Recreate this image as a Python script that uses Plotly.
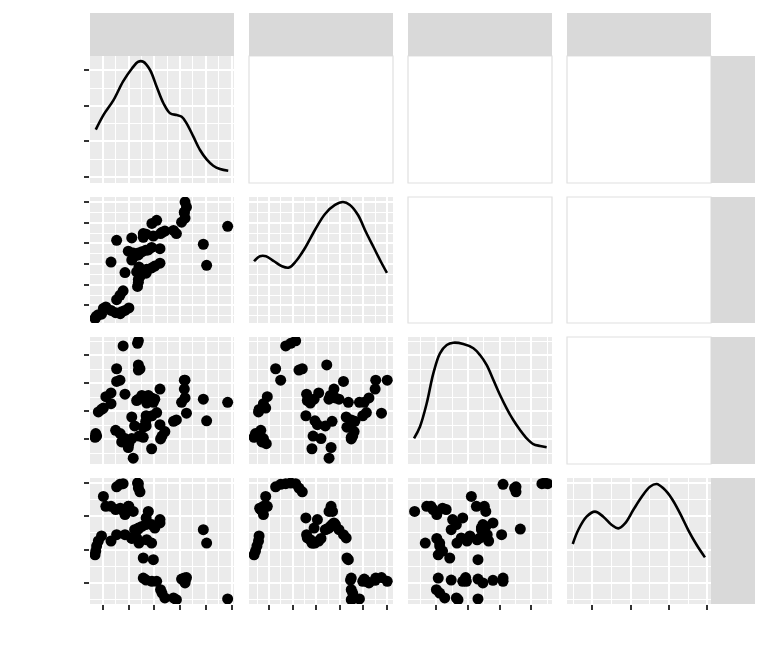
import plotly.graph_objects as go

# ---- data (panel-fraction units) ----
v1 = [0.035, 0.040, 0.046, 0.058, 0.080,
      0.093, 0.110, 0.146, 0.178, 0.210, 0.270, 0.243, 0.220,
      0.185, 0.208, 0.230, 0.330, 0.336, 0.336, 0.347,
      0.146, 0.243, 0.324, 0.394, 0.428, 0.450, 0.810, 0.390, 0.486, 0.290, 0.340,
      0.310, 0.336, 0.360, 0.387, 0.486, 0.428, 0.405, 0.300, 0.266, 0.336,
      0.787, 0.290, 0.185,
      0.370, 0.440,
      0.370, 0.390, 0.430, 0.463, 0.490, 0.500, 0.520, 0.580, 0.600, 0.956,
      0.636, 0.660, 0.655, 0.655, 0.670, 0.660]
v2 = [0.035, 0.045, 0.055, 0.066, 0.070,
      0.116, 0.127, 0.100, 0.082, 0.074, 0.120, 0.100, 0.090,
      0.185, 0.220, 0.255, 0.290, 0.324, 0.347, 0.370,
      0.484, 0.400, 0.405, 0.426, 0.437, 0.452, 0.458, 0.395, 0.475, 0.500, 0.445,
      0.530, 0.555, 0.565, 0.577, 0.590, 0.600, 0.580, 0.556, 0.570, 0.540,
      0.625, 0.675, 0.656,
      0.680, 0.690,
      0.710, 0.705, 0.790, 0.815, 0.710, 0.720, 0.730, 0.735, 0.710, 0.767,
      0.800, 0.833, 0.876, 0.880, 0.920, 0.960]
v3 = [0.21, 0.24, 0.22, 0.41, 0.43,
      0.44, 0.53, 0.475, 0.265, 0.24, 0.16, 0.20, 0.174,
      0.75, 0.66, 0.93, 0.95, 0.97, 0.74, 0.75,
      0.56, 0.55, 0.50, 0.48, 0.12, 0.51, 0.34, 0.38, 0.31, 0.20, 0.22,
      0.30, 0.51, 0.54, 0.336, 0.59, 0.52, 0.54, 0.046, 0.13, 0.78,
      0.51, 0.37, 0.65,
      0.29, 0.486,
      0.21, 0.30, 0.38, 0.405, 0.197, 0.22, 0.255, 0.336, 0.347, 0.486,
      0.486, 0.52, 0.59, 0.66, 0.40, 0.66]
v4 = [0.39, 0.42, 0.46, 0.50, 0.54,
      0.854, 0.775, 0.775, 0.75, 0.76, 0.775, 0.71, 0.75,
      0.93, 0.95, 0.955, 0.96, 0.955, 0.92, 0.89,
      0.50, 0.55, 0.524, 0.51, 0.484, 0.603, 0.484, 0.683, 0.67, 0.52, 0.484,
      0.59, 0.603, 0.616, 0.63, 0.643, 0.63, 0.735, 0.735, 0.775, 0.595,
      0.59, 0.524, 0.55,
      0.365, 0.352,
      0.206, 0.19, 0.18, 0.18, 0.114, 0.087, 0.048, 0.048, 0.034, 0.04,
      0.198, 0.167, 0.188, 0.206, 0.21, 0.18]

# diagonal density curves (x in variable units, y in panel fraction)
dens1_x = [0.04, 0.093, 0.162, 0.23, 0.29, 0.335, 0.37, 0.417, 0.463, 0.51, 0.556, 0.602,
           0.637, 0.671, 0.718, 0.764, 0.81, 0.856, 0.903, 0.96]
dens1_y = [0.42, 0.535, 0.65, 0.80, 0.90, 0.955, 0.955, 0.89, 0.758, 0.628, 0.549, 0.535,
           0.522, 0.47, 0.365, 0.26, 0.186, 0.136, 0.11, 0.097]
dens2_x = [0.035, 0.076, 0.118, 0.174, 0.229, 0.278, 0.326, 0.389, 0.458, 0.528, 0.597,
           0.653, 0.701, 0.757, 0.812, 0.868, 0.917, 0.958]
dens2_y = [0.49, 0.53, 0.53, 0.49, 0.45, 0.44, 0.49, 0.595, 0.738, 0.865, 0.937,
           0.96, 0.937, 0.857, 0.722, 0.595, 0.484, 0.397]
dens3_x = [0.042, 0.083, 0.13, 0.176, 0.222, 0.269, 0.315, 0.384, 0.454, 0.5, 0.546, 0.593,
           0.639, 0.685, 0.731, 0.778, 0.824, 0.87, 0.917, 0.963]
dens3_y = [0.202, 0.294, 0.478, 0.714, 0.871, 0.937, 0.955, 0.945, 0.911, 0.858, 0.78, 0.661,
           0.543, 0.438, 0.346, 0.268, 0.202, 0.157, 0.142, 0.132]
dens4_x = [0.04, 0.078, 0.136, 0.194, 0.252, 0.311, 0.356, 0.403, 0.46, 0.519, 0.576, 0.623,
           0.669, 0.727, 0.785, 0.842, 0.901, 0.958]
dens4_y = [0.476, 0.587, 0.693, 0.733, 0.693, 0.627, 0.6, 0.64, 0.746, 0.851, 0.931, 0.952,
           0.918, 0.838, 0.719, 0.587, 0.468, 0.37]

# tick positions
col_ticks = [[0.09, 0.268, 0.447, 0.626, 0.804, 0.983],
             [0.139, 0.303, 0.467, 0.631, 0.795, 0.959],
             [0.197, 0.417, 0.637, 0.857],
             [0.176, 0.442, 0.708, 0.974]]
row_ticks = [[0.048, 0.328, 0.608, 0.888],
             [0.14, 0.304, 0.468, 0.632, 0.796, 0.96],
             [0.196, 0.416, 0.636, 0.856],
             [0.168, 0.432, 0.696, 0.96]]

# ---- layout geometry (window pixels; page body has an 8px margin) ----
OFF = 8
W, H = 768 - OFF, 653 - OFF
cols_px = [(90, 234), (249, 393), (408, 552), (567, 711)]
rows_px = [(56, 183), (197, 323), (337, 464), (478, 604)]
STRIP = '#D9D9D9'
PANEL = '#EBEBEB'
TICK = '#333333'


def px_x(p):
    return (p - OFF) / W


def px_y(p):
    return 1 - (p - OFF) / H


def minor(vals):
    step = vals[1] - vals[0]
    out = [vals[0] - step / 2] + [(a + b) / 2 for a, b in zip(vals, vals[1:])] + [vals[-1] + step / 2]
    return [m for m in out if 0 < m < 1]


vars_ = [v1, v2, v3, v4]
dens = [(dens1_x, dens1_y), (dens2_x, dens2_y), (dens3_x, dens3_y), (dens4_x, dens4_y)]

fig = go.Figure()
shapes = []
layout = {}
for r in range(4):
    for c in range(4):
        k = r * 4 + c + 1
        xs = 'x' if k == 1 else f'x{k}'
        ys = 'y' if k == 1 else f'y{k}'
        xk = 'xaxis' if k == 1 else f'xaxis{k}'
        yk = 'yaxis' if k == 1 else f'yaxis{k}'
        lower = r >= c
        x0, x1 = px_x(cols_px[c][0]), px_x(cols_px[c][1])
        y0, y1 = px_y(rows_px[r][1]), px_y(rows_px[r][0])
        xa = dict(domain=[x0, x1], anchor=ys, range=[0, 1], zeroline=False, showline=False,
                  showticklabels=False, fixedrange=True)
        ya = dict(domain=[y0, y1], anchor=xs, range=[0, 1], zeroline=False, showline=False,
                  showticklabels=False, fixedrange=True)
        if lower:
            xa.update(tickmode='array', tickvals=col_ticks[c], showgrid=True, gridcolor='white',
                      gridwidth=1.6,
                      minor=dict(tickmode='array', tickvals=minor(col_ticks[c]), showgrid=True,
                                 gridcolor='white', gridwidth=0.8, ticks=''))
            ya.update(tickmode='array', tickvals=row_ticks[r], showgrid=True, gridcolor='white',
                      gridwidth=1.6,
                      minor=dict(tickmode='array', tickvals=minor(row_ticks[r]), showgrid=True,
                                 gridcolor='white', gridwidth=0.8, ticks=''))
            if r == 3:
                xa.update(ticks='outside', ticklen=5, tickwidth=1.8, tickcolor=TICK)
            else:
                xa.update(ticks='')
            if c == 0:
                ya.update(ticks='outside', ticklen=5, tickwidth=1.8, tickcolor=TICK)
            else:
                ya.update(ticks='')
            shapes.append(dict(type='rect', xref='paper', yref='paper',
                               x0=x0, x1=x1, y0=y0, y1=y1, fillcolor=PANEL, line=dict(width=0),
                               layer='below'))
        else:
            xa.update(showgrid=False, ticks='')
            ya.update(showgrid=False, ticks='')
            shapes.append(dict(type='rect', xref='paper', yref='paper',
                               x0=x0, x1=x1, y0=y0, y1=y1, fillcolor='white',
                               line=dict(width=1.2, color='#E0E0E0'), layer='below'))
        layout[xk] = xa
        layout[yk] = ya

        if r > c:
            fig.add_trace(go.Scatter(x=vars_[c], y=vars_[r], mode='markers',
                                     marker=dict(color='black', size=11, line=dict(width=0)),
                                     xaxis=xs, yaxis=ys, showlegend=False, hoverinfo='skip'))
        elif r == c:
            dx, dy = dens[r]
            fig.add_trace(go.Scatter(x=dx, y=dy, mode='lines',
                                     line=dict(color='black', width=2.6, shape='spline'),
                                     xaxis=xs, yaxis=ys, showlegend=False, hoverinfo='skip'))

# strips (top for columns, right for rows)
for c in range(4):
    shapes.append(dict(type='rect', xref='paper', yref='paper',
                       x0=px_x(cols_px[c][0]), x1=px_x(cols_px[c][1]),
                       y0=px_y(56), y1=px_y(13), fillcolor=STRIP, line=dict(width=0)))
for r in range(4):
    shapes.append(dict(type='rect', xref='paper', yref='paper',
                       x0=px_x(711), x1=px_x(755),
                       y0=px_y(rows_px[r][1]), y1=px_y(rows_px[r][0]),
                       fillcolor=STRIP, line=dict(width=0)))

fig.update_layout(width=W, height=H, margin=dict(l=0, r=0, t=0, b=0),
                  paper_bgcolor='white', plot_bgcolor='white', shapes=shapes,
                  showlegend=False, **layout)
fig.write_html("out.html")
